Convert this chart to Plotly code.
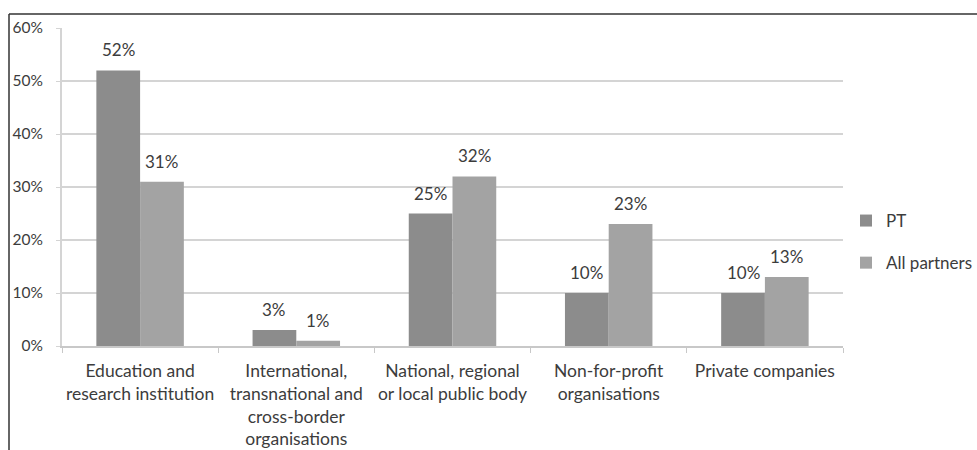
import plotly.graph_objects as go

# Partner types and share of partners in each
categories = [
    "Education and<br>research institution",
    "International,<br>transnational and<br>cross-border<br>organisations",
    "National, regional<br>or local public body",
    "Non-for-profit<br>organisations",
    "Private companies",
]
pt_values = [52, 3, 25, 10, 10]
all_partner_values = [31, 1, 32, 23, 13]
y_ticks = [0, 10, 20, 30, 40, 50, 60]
y_tick_labels = [f"{v}%" for v in y_ticks]

FONT = "Lato, 'Liberation Sans', sans-serif"
TEXT = "#3c3c3c"
BARGAP = 0.44

L, R, T, B = 62, 843, 28, 346
W, H = 977, 450

fig = go.Figure()
fig.add_trace(go.Bar(
    name="PT", x=categories, y=pt_values,
    marker=dict(color="#8c8c8c", line=dict(width=0)),
    legendgroup="a", hoverinfo="x+y",
))
fig.add_trace(go.Bar(
    name="All partners", x=categories, y=all_partner_values,
    marker=dict(color="#a3a3a3", line=dict(width=0)),
    legendgroup="b", hoverinfo="x+y",
))

# value labels above each bar, offset to the bar's slot within its group
slot = (R - L) / len(categories) * (1 - BARGAP) / 2
annotations = []
for series, shift in ((pt_values, -slot / 2), (all_partner_values, slot / 2)):
    for cat, v in zip(categories, series):
        annotations.append(dict(
            x=cat, y=v, xref="x", yref="y", text=f"{v}%",
            showarrow=False, xanchor="center", yanchor="bottom",
            xshift=shift, yshift=8,
            font=dict(family=FONT, size=17, color=TEXT),
        ))


def px_to_paper_x(px):
    return (px - L) / (R - L)


def px_to_paper_y(py):
    return (B - py) / (B - T)


fig.update_layout(
    width=W, height=H,
    margin=dict(l=L, r=W - R, t=T, b=H - B, pad=0, autoexpand=False),
    paper_bgcolor="white", plot_bgcolor="white",
    barmode="group", bargap=BARGAP, bargroupgap=0,
    font=dict(family=FONT, size=17, color=TEXT),
    showlegend=True,
    legend=dict(
        x=px_to_paper_x(846), xanchor="left", y=px_to_paper_y(203), yanchor="top",
        font=dict(family=FONT, size=17, color=TEXT),
        bgcolor="rgba(0,0,0,0)", tracegroupgap=17,
        itemwidth=30,
    ),
    xaxis=dict(
        showgrid=False, showline=True, linecolor="#c8c8c8", linewidth=2,
        ticks="outside", tickson="boundaries", ticklen=5, tickcolor="#c8c8c8",
        tickwidth=1, tickfont=dict(family=FONT, size=17.5, color=TEXT),
        ticklabelstandoff=8, tickangle=0, automargin=False,
    ),
    yaxis=dict(
        range=[0, 60], tickvals=y_ticks, ticktext=y_tick_labels,
        showgrid=True, gridcolor="#d4d4d4", gridwidth=2,
        showline=True, linecolor="#d4d4d4", linewidth=2,
        ticks="outside", ticklen=4, tickcolor="#d4d4d4",
        tickfont=dict(family=FONT, size=15.5, color=TEXT),
        ticklabelstandoff=10, zeroline=False, automargin=False,
    ),
    annotations=annotations,
    shapes=[
        # frame lines along the top and left edges
        dict(type="line", xref="paper", yref="paper",
             x0=px_to_paper_x(9), x1=px_to_paper_x(W + 5),
             y0=px_to_paper_y(14), y1=px_to_paper_y(14),
             line=dict(color="#333333", width=1.5)),
        dict(type="line", xref="paper", yref="paper",
             x0=px_to_paper_x(9), x1=px_to_paper_x(9),
             y0=px_to_paper_y(14), y1=px_to_paper_y(H + 5),
             line=dict(color="#333333", width=1.5)),
    ],
)

fig.write_html("out.html")
